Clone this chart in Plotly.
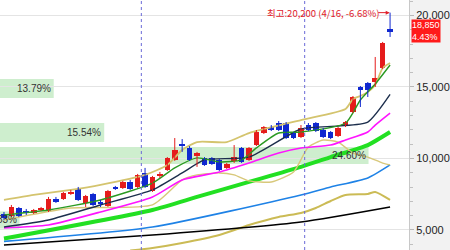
import plotly.graph_objects as go

# ---------------- data ----------------
idx = list(range(53))
opens  = [6120,5980,6540,6330,6190,6400,6330,7170,7170,7520,7870,6890,7520,6960,6680,8010,7940,8360,8010,8990,
          7730,8780,9200,9900,11010,10730,10180,10030,10030,9900,9340,9830,10730,9900,10940,11780,12200,12480,12480,11780,
          11500,12340,12480,11990,11850,11570,12270,13250,15000,15280,15350,16330,19050]
highs  = [6260,6750,6610,6470,6470,6610,7310,7310,7660,7800,8010,7450,7590,7100,7800,8080,8430,8500,8920,9340,
          8780,9060,10100,11430,11360,10870,10460,10100,10100,9970,9690,10940,10800,10800,11990,12270,12340,12620,12550,11850,
          12340,12480,12550,12130,11920,12200,12620,14370,15070,15350,17100,18150,20200]
lows   = [5700,5910,5910,6050,6120,6330,6260,6890,7100,7450,7030,6610,6680,6610,6610,7800,7870,7800,7940,7940,
          7660,8640,9130,9830,10460,9830,9410,9480,9550,9130,9270,9690,9690,9830,10870,11710,11920,11920,11360,11360,
          11430,11920,11850,11430,11360,11500,12200,13180,13600,14300,15000,16260,18500]
closes = [5840,6610,5980,6190,6400,6540,7170,6960,7590,7660,7100,7380,6750,6820,7730,7870,8360,7870,8850,8010,
          8710,8920,10030,10600,10870,9900,10390,9550,9620,9200,9620,10100,9760,10730,11850,12200,11990,11990,11430,11430,
          12130,11990,11920,11500,11430,12130,12550,14300,14790,14790,15630,18050,18850]

# moving averages / bands (read at selected sessions)
ma5_x   = [0,6,13,20,23,26,29,32,34,37,40,46,48,50,52]
ma5_y   = [6050,6400,7100,8280,9340,10040,9760,9900,10740,11780,11850,12480,14090,15210,16540]
ma10_x  = [0,6,13,20,24,27,33,40,45,49,52]
ma10_y  = [5210,5700,6750,7800,8990,9900,10100,12060,12270,12550,14480]
ma20_x  = [0,6,13,20,24,29,33,37,40,44,46,49,50,52]
ma20_y  = [5140,5350,6260,7310,8500,9060,9690,10380,10730,10940,11290,11850,12340,13180]
ma60_x  = [0,20,26,33,40,44,49,52]
ma60_y  = [4400,6400,7310,8360,9410,10100,10940,11850]
ma120_x = [0,20,40,44,49,52]
ma120_y = [4200,5210,7450,8010,8640,9550]
ma240_x = [0,20,40,52]
ma240_y = [3950,4650,5560,6610]
bbu_x   = [0,4,9,13,19,22,24,26,30,33,40,46,47,48,49,50,51,52]
bbu_y   = [7100,7450,7800,8150,8850,9545,10595,11150,11150,11780,12690,13460,14160,14370,14650,15140,16330,16680]
bbl_x   = [0,9,20,24,26,29,31,33,36,39,41,43,45,47,49,51,52]
bbl_y   = [5700,6540,6750,8500,8850,8990,8850,8430,8360,9060,10800,11290,11150,10380,10100,9680,9550]
env_x   = [17,20,24,29,33,37,40,42,44,46,49,50,52]
env_y   = [3560,3740,4090,4650,5350,5910,6190,6540,7030,7450,7520,7660,7100]

# price-volume bands
band_lo  = [14230, 11150, 9615, 5100]
band_hi  = [15560, 12480, 10800, 6300]
band_end = [6.7, 13.5, 49.1, 2.1]
band_pct = ["13.79%", "15.54%", "24.60%", "21.83%"]

month_breaks = [18.5, 40.5]
last_close = 18850
last_chg = "4.43%"
high_text = "최고:20,200 (4/16, -6.68%)"
high_val = 20200
high_idx = 52

yticks = [5000, 10000, 15000, 20000]

UP, DOWN = "#e51c1c", "#1028d0"

# ---------------- figure ----------------
fig = go.Figure()

for lo, hi, end in zip(band_lo, band_hi, band_end):
    fig.add_shape(type="rect", xref="x", yref="y", x0=-2, x1=end, y0=lo, y1=hi,
                  fillcolor="rgba(190,232,190,0.75)", line_width=0, layer="below")
for lo, hi, end, t in zip(band_lo, band_hi, band_end, band_pct):
    fig.add_annotation(x=end, y=(lo + hi) / 2, text=t, showarrow=False, xanchor="right",
                       xshift=-1, font=dict(size=10, color="#333333",
                                            family="Liberation Sans Narrow, Liberation Sans, sans-serif"))

for mb in month_breaks:
    fig.add_shape(type="line", xref="x", yref="paper", x0=mb, x1=mb, y0=0, y1=1,
                  line=dict(color="#6a6ad8", width=1, dash="dot"))

def line(xs, ys, color, width):
    fig.add_trace(go.Scatter(x=xs, y=ys, mode="lines", line=dict(color=color, width=width, shape="spline", smoothing=0.6),
                             hoverinfo="skip", showlegend=False))

line(env_x, env_y, "#cbbb55", 2)
line(ma240_x, ma240_y, "#000000", 1.6)
line(ma120_x, ma120_y, "#1e82e6", 1.6)
line(ma60_x, ma60_y, "#22e022", 4)
line(bbl_x, bbl_y, "#d8c87a", 1.4)
line(ma20_x, ma20_y, "#ff14ff", 1.6)
line(bbu_x, bbu_y, "#d4c46e", 1.8)
line(ma10_x, ma10_y, "#1c2e4c", 1.4)
line(ma5_x, ma5_y, "#2a9a22", 1.4)

# candles: wicks then bodies
for is_up, col in ((True, UP), (False, DOWN)):
    wx, wy = [], []
    for i, o, h, l, c in zip(idx, opens, highs, lows, closes):
        if (c >= o) == is_up:
            wx += [i, i, None]
            wy += [l, h, None]
    fig.add_trace(go.Scatter(x=wx, y=wy, mode="lines", line=dict(color=col, width=1),
                             hoverinfo="skip", showlegend=False))
body_base = [min(o, c) for o, c in zip(opens, closes)]
body_len = [max(abs(c - o), 45) for o, c in zip(opens, closes)]
body_col = [UP if c >= o else DOWN for o, c in zip(opens, closes)]
fig.add_trace(go.Bar(x=idx, y=body_len, base=body_base, width=0.76, marker=dict(color=body_col, line_width=0),
                     hoverinfo="skip", showlegend=False))

# high marker annotation
fig.add_annotation(x=high_idx - 0.05, y=high_val, ax=high_idx - 1.8, ay=high_val, xref="x", yref="y",
                   axref="x", ayref="y", text="", showarrow=True, arrowhead=2, arrowsize=0.8,
                   arrowwidth=1, arrowcolor="#e0202a")
fig.add_annotation(x=high_idx - 2.05, y=high_val, text=high_text, showarrow=False, xanchor="right", xshift=7,
                   font=dict(size=9.5, color="#e0202a", family="Liberation Sans Narrow, Noto Sans CJK KR, sans-serif"))

# current price tag
fig.add_annotation(xref="paper", yref="y", x=1.004, y=last_close + 60, text=f"{last_close:,}<br>{last_chg}",
                   showarrow=False, xanchor="left", align="left", bgcolor="#ff1a1a", borderpad=0,
                   font=dict(size=9, color="white", family="Liberation Sans Narrow, sans-serif"))

fig.update_layout(
    width=450, height=250, margin=dict(l=0, r=39, t=0, b=0),
    paper_bgcolor="#f2f2f2", plot_bgcolor="white", showlegend=False, bargap=0,
    xaxis=dict(range=[-0.536, 54.55], showgrid=False, zeroline=False, showticklabels=False, fixedrange=True),
    yaxis=dict(range=[3600, 21084], side="right", tickvals=yticks,
               ticktext=[f"{v:,}" for v in yticks], showgrid=True, gridcolor="#e4e4e4",
               zeroline=False, showline=True, linecolor="#c8c8c8", ticks="outside", ticklen=4,
               tickcolor="#b8b8b8", minor=dict(dtick=1000, ticks="outside", ticklen=3, tickcolor="#c0c0c0"),
               tickfont=dict(size=11, color="#222222", family="Liberation Sans Narrow, Liberation Sans, sans-serif")),
)

fig.write_html("out.html")
